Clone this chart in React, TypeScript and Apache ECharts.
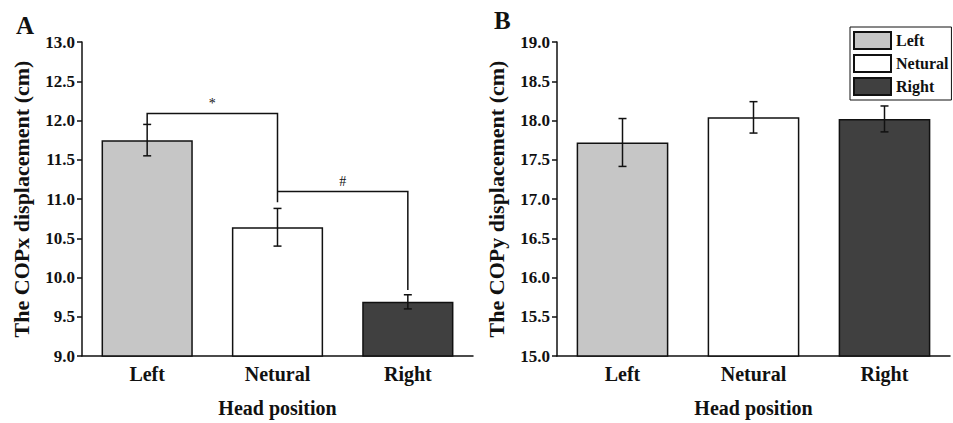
import React, { useEffect, useRef } from "react";
import * as echarts from "echarts";

const categories = ["Left", "Netural", "Right"];
const copxMean = [11.75, 10.64, 9.69];
const copxErr = [0.2, 0.24, 0.09];
const copyMean = [17.72, 18.04, 18.02];
const copyErr = [0.305, 0.2, 0.165];
const barColors = ["#c6c6c6", "#ffffff", "#404040"];

const bracketFrom = [0, 1];
const bracketTo = [1, 2];
const bracketY = [12.09, 11.095];
const bracketLeftEnd = [11.95, 11.095];
const bracketRightEnd = [10.96, 9.84];
const bracketLabels = ["*", "#"];

const copxTicks = { min: 9, max: 13, interval: 0.5 };
const copyTicks = { min: 15, max: 19, interval: 0.5 };

const FONT = "'Liberation Serif', 'Times New Roman', serif";
const INK = "#111";

export default function App() {
  const ref = useRef<HTMLDivElement>(null);

  useEffect(() => {
    if (!ref.current) return;
    const chart = echarts.init(ref.current, null, { renderer: "svg" });

    const xAxisBase = (gridIndex: number) => ({
      type: "category",
      gridIndex,
      data: categories,
      axisLine: { lineStyle: { color: INK, width: 1.5 } },
      axisTick: { alignWithLabel: true, length: 6, lineStyle: { color: INK, width: 1.5 } },
      axisLabel: { fontFamily: FONT, fontSize: 20, fontWeight: "bold", color: INK, margin: 8 },
      name: "Head position",
      nameLocation: "middle",
      nameGap: 42,
      nameTextStyle: { fontFamily: FONT, fontSize: 20, fontWeight: "bold", color: INK },
    });

    const yAxisBase = (gridIndex: number, ticks: any, name: string) => ({
      type: "value",
      gridIndex,
      min: ticks.min,
      max: ticks.max,
      interval: ticks.interval,
      axisLine: { show: true, lineStyle: { color: INK, width: 1.5 } },
      axisTick: { show: true, length: 5, lineStyle: { color: INK, width: 1.5 } },
      axisLabel: {
        fontFamily: FONT,
        fontSize: 17,
        fontWeight: "bold",
        color: INK,
        margin: 7,
        formatter: (v: number) => v.toFixed(1),
      },
      splitLine: { show: false },
      name,
      nameLocation: "middle",
      nameGap: 50,
      nameTextStyle: { fontFamily: FONT, fontSize: 22, fontWeight: "bold", color: INK },
    });

    const errorRender = (params: any, api: any) => {
      const x = api.value(0);
      const lo = api.value(1);
      const hi = api.value(2);
      const p1 = api.coord([x, hi]);
      const p2 = api.coord([x, lo]);
      const cap = 4;
      const st = { stroke: INK, lineWidth: 1.5 };
      return {
        type: "group",
        children: [
          { type: "line", shape: { x1: p1[0], y1: p1[1], x2: p2[0], y2: p2[1] }, style: st },
          { type: "line", shape: { x1: p1[0] - cap, y1: p1[1], x2: p1[0] + cap, y2: p1[1] }, style: st },
          { type: "line", shape: { x1: p2[0] - cap, y1: p2[1], x2: p2[0] + cap, y2: p2[1] }, style: st },
        ],
      };
    };

    const bracketRender = (params: any, api: any) => {
      const f = api.value(0);
      const t = api.value(1);
      const y = api.value(2);
      const le = api.value(3);
      const re = api.value(4);
      const a = api.coord([f, le]);
      const b = api.coord([f, y]);
      const c = api.coord([t, y]);
      const d = api.coord([t, re]);
      return {
        type: "group",
        children: [
          {
            type: "polyline",
            shape: { points: [a, b, c, d] },
            style: { stroke: INK, lineWidth: 1.5, fill: null },
          },
          {
            type: "text",
            x: (b[0] + c[0]) / 2,
            y: b[1] - 3,
            style: {
              text: bracketLabels[params.dataIndex],
              fontFamily: FONT,
              fontSize: 14,
              fill: INK,
              align: "center",
              verticalAlign: "bottom",
            },
          },
        ],
      };
    };

    const barStyle = (i: number) => ({
      color: barColors[i],
      borderColor: INK,
      borderWidth: 1.5,
    });

    const option: any = {
      animation: false,
      backgroundColor: "#ffffff",
      textStyle: { fontFamily: FONT },
      grid: [
        { left: 82, top: 42, width: 391, height: 315 },
        { left: 557, top: 42, width: 393, height: 315 },
      ],
      xAxis: [xAxisBase(0), xAxisBase(1)],
      yAxis: [
        yAxisBase(0, copxTicks, "The COPx displacement (cm)"),
        yAxisBase(1, copyTicks, "The COPy displacement (cm)"),
      ],
      legend: {
        data: categories,
        orient: "vertical",
        left: 850,
        top: 27,
        padding: [4, 3, 4, 3],
        itemGap: 4,
        itemWidth: 37,
        itemHeight: 17,
        borderColor: INK,
        borderWidth: 1,
        icon: "rect",
        textStyle: { fontFamily: FONT, fontSize: 16, fontWeight: "bold", color: INK },
        selectedMode: false,
      },
      graphic: [
        {
          type: "text",
          left: 16,
          top: 13,
          style: { text: "A", fontFamily: FONT, fontSize: 25, fontWeight: "bold", fill: INK },
        },
        {
          type: "text",
          left: 494,
          top: 8,
          style: { text: "B", fontFamily: FONT, fontSize: 25, fontWeight: "bold", fill: INK },
        },
      ],
      series: [
        {
          type: "bar",
          name: "COPx",
          xAxisIndex: 0,
          yAxisIndex: 0,
          barWidth: "70%",
          data: copxMean.map((v, i) => ({ value: v, itemStyle: barStyle(i) })),
        },
        {
          type: "custom",
          name: "COPx error",
          xAxisIndex: 0,
          yAxisIndex: 0,
          z: 5,
          renderItem: errorRender,
          encode: { x: 0, y: [1, 2] },
          data: copxMean.map((v, i) => [i, v - copxErr[i], v + copxErr[i]]),
        },
        {
          type: "custom",
          name: "Significance",
          xAxisIndex: 0,
          yAxisIndex: 0,
          z: 6,
          renderItem: bracketRender,
          encode: { x: [0, 1], y: [2, 3, 4] },
          data: bracketFrom.map((f, i) => [f, bracketTo[i], bracketY[i], bracketLeftEnd[i], bracketRightEnd[i]]),
        },
        ...categories.map((c, i) => ({
          type: "bar",
          name: c,
          xAxisIndex: 1,
          yAxisIndex: 1,
          barWidth: "70%",
          barGap: "-100%",
          itemStyle: barStyle(i),
          data: copyMean.map((v, j) => (j === i ? v : "-")),
        })),
        {
          type: "custom",
          name: "COPy error",
          xAxisIndex: 1,
          yAxisIndex: 1,
          z: 5,
          renderItem: errorRender,
          encode: { x: 0, y: [1, 2] },
          data: copyMean.map((v, i) => [i, v - copyErr[i], v + copyErr[i]]),
        },
      ],
    };

    chart.setOption(option);
    return () => chart.dispose();
  }, []);

  return (
    <div
      ref={ref}
      style={{ position: "absolute", left: 0, top: 0, width: 953, height: 423 }}
    />
  );
}
